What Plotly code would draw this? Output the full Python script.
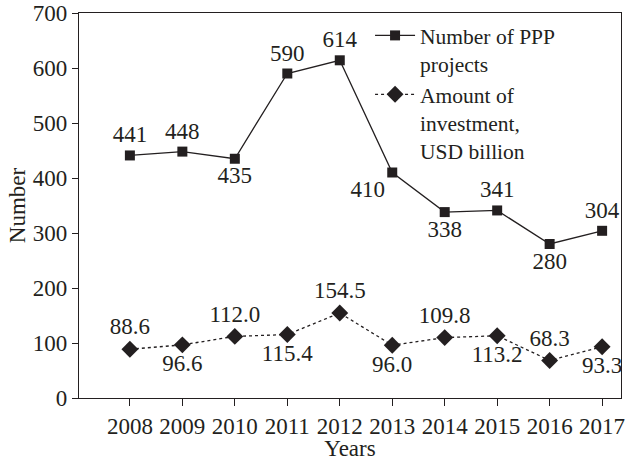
import plotly.graph_objects as go

years = [2008, 2009, 2010, 2011, 2012, 2013, 2014, 2015, 2016, 2017]
ppp_projects = [441, 448, 435, 590, 614, 410, 338, 341, 280, 304]
investment = [88.6, 96.6, 112.0, 115.4, 154.5, 96.0, 109.8, 113.2, 68.3, 93.3]
ppp_labels = ["441", "448", "435", "590", "614", "410", "338", "341", "280", "304"]
inv_labels = ["88.6", "96.6", "112.0", "115.4", "154.5", "96.0", "109.8", "113.2", "68.3", "93.3"]
ppp_pos = ["top center", "top center", "bottom center", "top center", "top center",
           "bottom left", "bottom center", "top center", "bottom center", "top center"]
inv_pos = ["top center", "bottom center", "top center", "bottom center", "top center",
           "bottom center", "top center", "bottom center", "top center", "bottom center"]

ink = "#231f20"
font = "Liberation Serif"
fs = 23

fig = go.Figure()
fig.add_trace(go.Scatter(
    x=years, y=ppp_projects, mode="lines+markers+text",
    name="Number of PPP<br>projects",
    line=dict(color=ink, width=1.3),
    marker=dict(symbol="square", size=10, color=ink),
    text=ppp_labels, textposition=ppp_pos,
    textfont=dict(family=font, size=fs, color=ink),
))
fig.add_trace(go.Scatter(
    x=years, y=investment, mode="lines+markers+text",
    name="Amount of<br>investment,<br>USD billion",
    line=dict(color=ink, width=1.3, dash="dot"),
    marker=dict(symbol="diamond", size=13, color=ink),
    text=inv_labels, textposition=inv_pos,
    textfont=dict(family=font, size=fs, color=ink),
))

fig.update_layout(
    width=628, height=461,
    margin=dict(l=79, r=7, t=13, b=63, autoexpand=False),
    paper_bgcolor="white", plot_bgcolor="white",
    font=dict(family=font, size=fs, color=ink),
    showlegend=True,
    legend=dict(x=0.537, y=0.995, xanchor="left", yanchor="top",
                bgcolor="rgba(0,0,0,0)", valign="top", tracegroupgap=0,
                itemwidth=40,
                font=dict(family=font, size=21.5, color=ink)),
    xaxis=dict(range=[2007.03, 2017.36], tickmode="array", tickvals=years,
               ticks="outside", ticklen=7, tickcolor=ink, showgrid=False,
               showline=True, linecolor=ink, linewidth=1.3, mirror=True,
               zeroline=False, automargin=False,
               title=dict(text="Years", standoff=0,
                          font=dict(family=font, size=fs, color=ink)),
               tickfont=dict(family=font, size=fs, color=ink)),
    yaxis=dict(range=[0, 700], tickmode="array",
               tickvals=[0, 100, 200, 300, 400, 500, 600, 700],
               ticks="outside", ticklen=6, tickcolor=ink, showgrid=False,
               showline=True, linecolor=ink, linewidth=1.3, mirror=True,
               zeroline=False, automargin=False,
               title=dict(text="Number", standoff=0,
                          font=dict(family=font, size=fs, color=ink)),
               tickfont=dict(family=font, size=fs, color=ink)),
)

fig.write_html("out.html", config={"displayModeBar": False},
               post_script="document.body.style.margin='0';document.body.style.overflow='hidden';")
